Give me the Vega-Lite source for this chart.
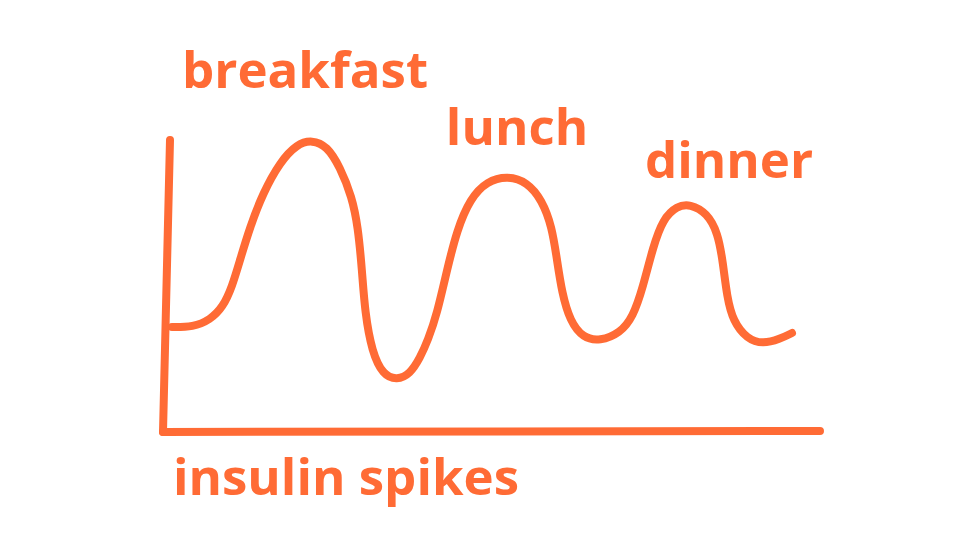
{
  "$schema": "https://vega.github.io/schema/vega-lite/v6.json",
  "width": 980,
  "height": 550,
  "padding": 0,
  "autosize": {"type": "fit", "contains": "padding"},
  "background": "white",
  "config": {"view": {"stroke": null}},
  "datasets": {
    "curve": [
      {"t": 172, "level": 223}, {"t": 193, "level": 223}, {"t": 210, "level": 230},
      {"t": 223, "level": 243}, {"t": 232, "level": 263}, {"t": 240, "level": 290},
      {"t": 250, "level": 323}, {"t": 263, "level": 357}, {"t": 280, "level": 388},
      {"t": 297, "level": 406}, {"t": 312, "level": 410}, {"t": 327, "level": 404},
      {"t": 340, "level": 383}, {"t": 352, "level": 353}, {"t": 358, "level": 323},
      {"t": 362, "level": 280}, {"t": 365, "level": 237}, {"t": 372, "level": 198},
      {"t": 383, "level": 175}, {"t": 397, "level": 170}, {"t": 410, "level": 176},
      {"t": 420, "level": 192}, {"t": 428, "level": 210}, {"t": 437, "level": 236},
      {"t": 447, "level": 280}, {"t": 457, "level": 320}, {"t": 470, "level": 351},
      {"t": 487, "level": 369}, {"t": 508, "level": 374}, {"t": 527, "level": 368},
      {"t": 542, "level": 350}, {"t": 552, "level": 323}, {"t": 557, "level": 290},
      {"t": 562, "level": 257}, {"t": 570, "level": 229}, {"t": 583, "level": 212},
      {"t": 600, "level": 209}, {"t": 620, "level": 217}, {"t": 633, "level": 233},
      {"t": 643, "level": 263}, {"t": 653, "level": 303}, {"t": 663, "level": 331},
      {"t": 677, "level": 344}, {"t": 690, "level": 346}, {"t": 707, "level": 337},
      {"t": 718, "level": 317}, {"t": 723, "level": 287}, {"t": 727, "level": 253},
      {"t": 733, "level": 229}, {"t": 747, "level": 211}, {"t": 763, "level": 206},
      {"t": 780, "level": 211}, {"t": 792, "level": 217}
    ],
    "axes": [
      {"t": 170, "level": 410, "t2": 163, "level2": 118},
      {"t": 163, "level": 118, "t2": 820, "level2": 119}
    ],
    "labels": [
      {"t": 305, "level": 462, "text": "breakfast"},
      {"t": 517, "level": 405, "text": "lunch"},
      {"t": 729, "level": 372, "text": "dinner"},
      {"t": 346, "level": 55, "text": "insulin spikes"}
    ]
  },
  "layer": [
    {
      "data": {"name": "axes"},
      "mark": {"type": "rule", "color": "#FF6B35", "strokeWidth": 8, "strokeCap": "round"},
      "encoding": {
        "x": {"field": "t", "type": "quantitative", "scale": {"domain": [0, 980], "nice": false, "zero": false}, "axis": null},
        "y": {"field": "level", "type": "quantitative", "scale": {"domain": [0, 550], "nice": false, "zero": false}, "axis": null},
        "x2": {"field": "t2"},
        "y2": {"field": "level2"}
      }
    },
    {
      "data": {"name": "curve"},
      "mark": {"type": "line", "color": "#FF6B35", "strokeWidth": 8, "strokeCap": "round", "strokeJoin": "round", "interpolate": "basis"},
      "encoding": {
        "x": {"field": "t", "type": "quantitative", "scale": {"domain": [0, 980], "nice": false, "zero": false}, "axis": null},
        "y": {"field": "level", "type": "quantitative", "scale": {"domain": [0, 550], "nice": false, "zero": false}, "axis": null}
      }
    },
    {
      "data": {"name": "labels"},
      "mark": {"type": "text", "color": "#FF6B35", "font": "Open Sans", "fontWeight": "bold", "fontSize": 51, "align": "center", "baseline": "alphabetic"},
      "encoding": {
        "x": {"field": "t", "type": "quantitative", "scale": {"domain": [0, 980], "nice": false, "zero": false}, "axis": null},
        "y": {"field": "level", "type": "quantitative", "scale": {"domain": [0, 550], "nice": false, "zero": false}, "axis": null},
        "text": {"field": "text"}
      }
    }
  ]
}
